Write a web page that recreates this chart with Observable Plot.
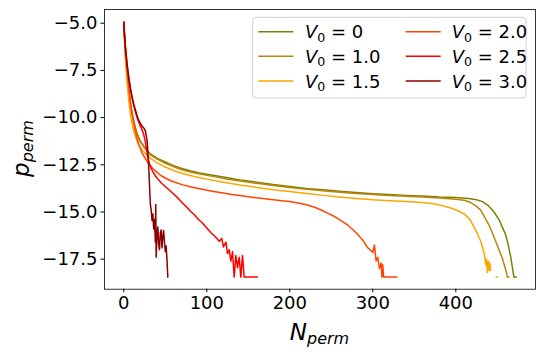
<!DOCTYPE html>
<html><head><meta charset="utf-8">
<script src="https://cdn.jsdelivr.net/npm/d3@7"></script>
<script src="https://cdn.jsdelivr.net/npm/@observablehq/plot@0.6"></script>
<style>body{margin:0;background:#fff} #c{position:relative;width:544px;height:357px}</style>
</head><body><div id="c"></div>
<script>
// Series: [N_perm, p_perm]
const v00 = [[0,-4.95],[1,-5.9],[2,-6.7],[3,-7.3],[4,-7.8],[6,-8.6],[8,-9.3],[10,-9.8],[12,-10.2],[14,-10.55],[16,-10.85],[18,-11.05],[20,-11.25],[24,-11.5],[28,-11.75],[32,-11.92],[40,-12.15],[50,-12.35],[60,-12.55],[70,-12.7],[80,-12.82],[90,-12.92],[100,-13.0],[120,-13.15],[140,-13.3],[160,-13.42],[180,-13.55],[200,-13.65],[220,-13.75],[240,-13.82],[260,-13.9],[280,-13.97],[300,-14.03],[320,-14.08],[340,-14.12],[360,-14.15],[380,-14.2],[400,-14.23],[415,-14.28],[425,-14.35],[432,-14.45],[438,-14.62],[442,-14.8],[446,-15.0],[452,-15.4],[456,-15.8],[460,-16.2],[463,-16.7],[466,-17.35],[468,-17.9],[470,-18.45],[473,-18.45]];
const v10 = [[0,-4.95],[1,-5.85],[2,-6.65],[3,-7.25],[4,-7.8],[6,-8.6],[8,-9.3],[10,-9.8],[12,-10.2],[14,-10.55],[16,-10.85],[18,-11.1],[20,-11.3],[24,-11.55],[28,-11.8],[32,-11.97],[40,-12.2],[50,-12.42],[60,-12.6],[70,-12.76],[80,-12.88],[90,-12.98],[100,-13.06],[120,-13.22],[140,-13.36],[160,-13.48],[180,-13.6],[200,-13.7],[220,-13.8],[240,-13.87],[260,-13.95],[280,-14.02],[300,-14.08],[320,-14.13],[340,-14.17],[360,-14.21],[380,-14.26],[400,-14.32],[410,-14.38],[418,-14.5],[425,-14.7],[430,-14.9],[435,-15.3],[440,-15.7],[444,-16.1],[448,-16.55],[452,-17.0],[456,-17.45],[459,-17.9],[461,-18.2],[462,-18.45],[464,-18.45]];
const v15 = [[0,-4.95],[1,-6.0],[2,-6.9],[3,-7.5],[4,-8.1],[6,-9.1],[8,-9.85],[10,-10.35],[12,-10.75],[14,-11.0],[16,-11.25],[18,-11.45],[20,-11.6],[24,-11.82],[28,-12.0],[32,-12.15],[40,-12.4],[50,-12.62],[60,-12.8],[70,-12.95],[80,-13.07],[90,-13.17],[100,-13.26],[120,-13.42],[140,-13.57],[160,-13.7],[180,-13.82],[200,-13.92],[220,-14.02],[240,-14.12],[260,-14.2],[280,-14.28],[300,-14.35],[320,-14.4],[340,-14.45],[360,-14.5],[375,-14.58],[385,-14.68],[395,-14.8],[403,-14.95],[410,-15.1],[417,-15.4],[422,-15.8],[426,-16.15],[430,-16.55],[433,-17.0],[435,-17.4],[436,-17.8],[437,-17.5],[438,-18.2],[439,-17.6],[440,-18.1],[441,-17.7],[442,-18.1],[445,null],[448.5,-18.45],[450,-18.45]];
const v20 = [[0,-4.95],[1,-5.75],[2,-6.4],[3,-7.0],[4,-7.5],[6,-8.4],[8,-9.15],[10,-9.8],[12,-10.3],[14,-10.75],[16,-11.1],[18,-11.4],[20,-11.65],[22,-11.88],[25,-12.1],[30,-12.45],[35,-12.7],[40,-12.9],[45,-13.08],[50,-13.2],[56,-13.33],[60,-13.4],[70,-13.55],[80,-13.66],[90,-13.76],[100,-13.85],[110,-13.93],[120,-14.0],[130,-14.07],[140,-14.13],[150,-14.19],[160,-14.25],[170,-14.3],[180,-14.35],[190,-14.4],[200,-14.45],[210,-14.52],[220,-14.62],[230,-14.75],[237,-14.88],[245,-15.05],[252,-15.2],[258,-15.35],[265,-15.55],[270,-15.7],[275,-15.9],[280,-16.1],[284,-16.3],[288,-16.5],[291,-16.7],[294,-16.9],[297,-17.0],[300,-17.15],[302,-16.75],[304,-17.6],[306,-17.4],[308,-18.0],[310,-17.7],[311,-18.45],[312,-17.8],[313,-18.45],[329,-18.45]];
const v25 = [[0,-4.95],[1,-5.7],[2,-6.3],[4,-7.2],[6,-7.9],[8,-8.5],[10,-8.95],[12,-9.35],[14,-9.7],[16,-10.0],[18,-10.25],[20,-10.45],[22,-10.65],[24,-10.9],[26,-11.3],[28,-11.85],[30,-12.3],[32,-12.6],[36,-12.95],[40,-13.2],[45,-13.45],[50,-13.65],[55,-13.85],[60,-14.05],[65,-14.25],[70,-14.5],[75,-14.7],[80,-14.95],[85,-15.15],[90,-15.4],[95,-15.6],[100,-15.85],[105,-16.1],[110,-16.3],[115,-16.55],[118,-16.4],[120,-16.85],[123,-16.6],[125,-17.2],[127,-17.0],[129,-17.6],[131,-17.1],[133,-18.45],[135,-17.3],[137,-17.95],[139,-17.4],[141,-18.45],[143,-17.3],[145,-18.45],[161,-18.45]];
const v30 = [[0,-4.95],[1,-5.7],[2,-6.3],[4,-7.2],[6,-7.9],[8,-8.45],[10,-8.9],[12,-9.3],[14,-9.6],[16,-9.9],[18,-10.15],[20,-10.3],[22,-10.45],[24,-10.55],[26,-10.7],[28,-11.2],[29,-11.8],[30,-12.6],[31,-13.6],[32,-14.6],[33,-14.9],[34,-15.45],[35,-15.1],[36,-15.9],[37,-15.4],[38,-16.6],[38.5,-14.6],[39,-17.4],[40,-16.2],[41,-15.8],[42,-16.7],[43,-17.0],[44,-16.1],[45,-15.95],[46,-16.9],[47,-16.3],[48,-15.98],[49,-16.6],[50,-17.1],[51,-16.8],[52,-17.5],[53,-18.45]];

const seriesNames = ["0","1.0","1.5","2.0","2.5","3.0"];
const seriesData = [v00, v10, v15, v20, v25, v30];
const colors = ["#808000","#b8860b","#ffa500","#ff4500","#ff0000","#8b0000"];
const xTicks = [0,100,200,300,400];
const yTicks = [-17.5,-15,-12.5,-10,-7.5,-5];

const rows = [];
seriesData.forEach((s,i)=> s.forEach(([x,y])=> rows.push({x, y, k: seriesNames[i]})));

const fmtY = d => (d<0?"\u2212":"") + Math.abs(d).toFixed(1);

const svgNode = Plot.plot({
  width: 544, height: 357,
  marginLeft: 104, marginRight: 9, marginTop: 9, marginBottom: 68.3,
  style: {fontFamily: "DejaVu Sans", fontSize: "18px", color: "black", background: "white"},
  x: {domain: [-23.25, 496], ticks: xTicks, tickFormat: d => String(d), tickSize: 3.5, tickPadding: 3.5, label: null},
  y: {domain: [-19.09, -4.274], ticks: yTicks, tickFormat: fmtY, tickSize: 3.5, tickPadding: 3.5, label: null},
  marks: [
    ...seriesNames.map((n,i) => Plot.line(rows.filter(r => r.k === n), {x: "x", y: "y", stroke: colors[i], strokeWidth: 1.5})),
    Plot.frame({stroke: "black", strokeWidth: 0.8})
  ]
});
document.getElementById("c").appendChild(svgNode);

const svg = d3.select(svgNode);
// axis labels
const xl = svg.append("text").attr("x", 319.5).attr("y", 340).attr("text-anchor", "middle")
  .attr("font-family", "DejaVu Sans").attr("font-size", 23).attr("fill", "black");
xl.append("tspan").attr("font-style", "italic").text("N");
xl.append("tspan").attr("font-style", "italic").attr("font-size", 16).attr("dy", 4).text("perm");

const yl = svg.append("text").attr("transform", "translate(29,148.5) rotate(-90)").attr("text-anchor", "middle")
  .attr("font-family", "DejaVu Sans").attr("font-size", 23).attr("fill", "black");
yl.append("tspan").attr("font-style", "italic").text("p");
yl.append("tspan").attr("font-style", "italic").attr("font-size", 16).attr("dy", 4).text("perm");

// legend
const lg = svg.append("g").attr("text-anchor", "start");
lg.append("rect").attr("x", 252.7).attr("y", 17.3).attr("width", 273.3).attr("height", 80.7).attr("rx", 3)
  .attr("fill", "white").attr("fill-opacity", 0.8).attr("stroke", "#d0d0d0").attr("stroke-width", 1);
seriesNames.forEach((n,i) => {
  const col = Math.floor(i/3), row = i % 3;
  const lx = col ? 405.7 : 258.3;
  const tx = col ? 451.7 : 305;
  const cy = 31.7 + row * 24.65;
  lg.append("line").attr("x1", lx).attr("x2", lx + 35).attr("y1", cy).attr("y2", cy)
    .attr("stroke", colors[i]).attr("stroke-width", 1.5);
  const t = lg.append("text").attr("x", tx).attr("y", cy + 6.5).attr("text-anchor", "start")
    .attr("font-family", "DejaVu Sans").attr("font-size", 18).attr("fill", "black");
  t.append("tspan").attr("font-style", "italic").text("V");
  t.append("tspan").attr("font-size", 12.6).attr("dy", 3.5).text("0");
  t.append("tspan").attr("dy", -3.5).text(" = " + n);
});
</script>
</body></html>
